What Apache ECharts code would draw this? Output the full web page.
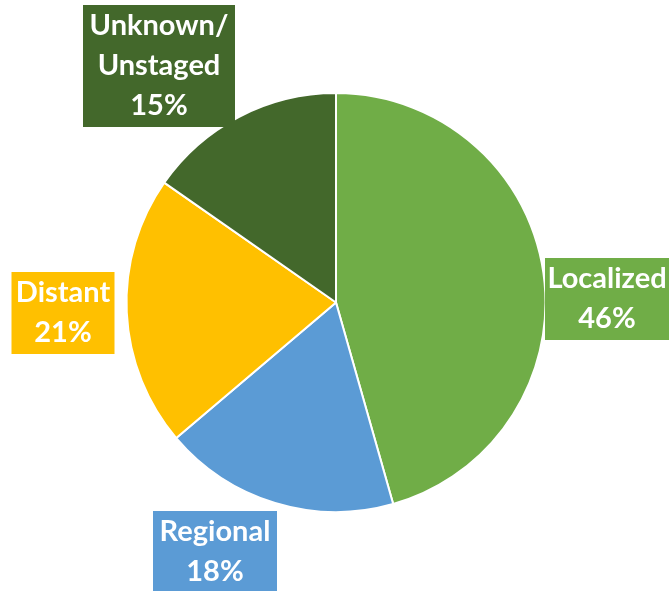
<!DOCTYPE html>
<html><head><meta charset="utf-8">
<script src="https://cdn.jsdelivr.net/npm/echarts@6/dist/echarts.min.js"></script>
<style>html,body{margin:0;padding:0;background:#fff}#c{width:669px;height:591px}</style>
</head><body><div id="c"></div>
<script>
const categories = ['Localized', 'Regional', 'Distant', 'Unknown/\nUnstaged'];
const values = [45.6, 18.2, 20.9, 15.3];
const colors = ['#70AD47', '#5B9BD5', '#FFC000', '#43682B'];
const labelPos = [[607, 299], [215, 552], [63, 313], [159, 66]];
const labelWidth = [124, 124, 103, 152];

const chart = echarts.init(document.getElementById('c'));
chart.setOption({
  animation: false,
  series: [{
    type: 'pie',
    center: [336, 302.5],
    radius: 209.5,
    startAngle: 90,
    clockwise: true,
    itemStyle: { borderColor: '#fff', borderWidth: 2 },
    labelLine: { show: false },
    label: {
      show: true,
      position: 'outside',
      formatter: p => p.name + '\n' + Math.round(p.value) + '%',
      color: '#fff',
      fontFamily: 'Lato',
      fontWeight: 'bold',
      fontSize: 29,
      lineHeight: 40,
      align: 'center',
      overflow: 'none',
      padding: [2, 0, 0, 0]
    },
    labelLayout: p => ({ x: labelPos[p.dataIndex][0], y: labelPos[p.dataIndex][1], align: 'center', verticalAlign: 'middle', hideOverlap: false }),
    data: categories.map((c, i) => ({
      name: c, value: values[i],
      itemStyle: { color: colors[i] },
      label: { backgroundColor: colors[i], width: labelWidth[i] }
    }))
  }]
});
</script></body></html>
